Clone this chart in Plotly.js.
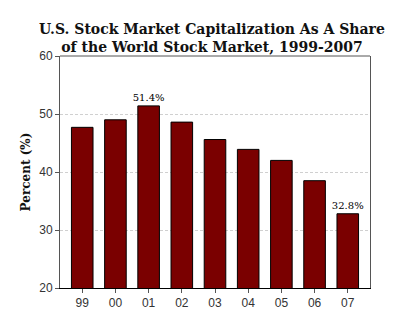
<!DOCTYPE html>
<html><head><meta charset="utf-8">
<script src="https://cdn.plot.ly/plotly-3.0.1.min.js"></script>
<style>html,body{margin:0;padding:0;background:#fff}#c{width:400px;height:321px}</style>
</head><body><div id="c"></div>
<script>
var years = ["99","00","01","02","03","04","05","06","07"];
var share = [47.7, 49.0, 51.4, 48.6, 45.6, 43.9, 42.0, 38.5, 32.8];
var labelled = ["01","07"];
var labels = years.map(function(y,i){ return labelled.indexOf(y) >= 0 ? share[i].toFixed(1) + "%" : ""; });

var serif = "DejaVu Serif, Liberation Serif, serif";
var trace = {
  type: "bar", x: years, y: share,
  marker: {color: "#7a0000", line: {color: "#000", width: 1}},
  width: 0.65,
  text: labels, textposition: "outside", cliponaxis: false, constraintext: "none",
  textfont: {family: serif, size: 10, color: "#000"},
  hoverinfo: "none"
};
var layout = {
  width: 400, height: 321,
  margin: {l: 60, r: 30, t: 56, b: 33},
  paper_bgcolor: "#fff", plot_bgcolor: "#fff",
  showlegend: false,
  title: {text: "U.S. Stock Market Capitalization As A Share<br>of the World Stock Market, 1999-2007",
          font: {family: serif, size: 14, color: "#111", weight: "bold"},
          x: 0.53, xanchor: "center", y: 0.895, yanchor: "top"},
  xaxis: {type: "category", range: [-0.67, 8.67], showline: true, linecolor: "#000", linewidth: 1,
          mirror: false, ticks: "outside", ticklen: 4, tickcolor: "#555",
          tickfont: {family: "Liberation Sans, Arial, sans-serif", size: 12, color: "#333"}, showgrid: false, fixedrange: true},
  yaxis: {range: [20, 60], tickvals: [20,30,40,50,60], showline: true, linecolor: "#555", mirror: true,
          ticks: "outside", ticklen: 4, tickcolor: "#555",
          tickfont: {family: "Liberation Sans, Arial, sans-serif", size: 12, color: "#333"},
          showgrid: true, gridcolor: "#d0d0d0", griddash: "3px,2px", zeroline: false,
          title: {text: "Percent (%)", standoff: 6, font: {family: serif, size: 12, color: "#111", weight: "bold"}}},
  shapes: [{type: "line", xref: "paper", yref: "paper", x0: 0, x1: 1, y0: 1, y1: 1, line: {color: "#555", width: 1}}]
};
Plotly.newPlot("c", [trace], layout, {displayModeBar: false, staticPlot: true});
</script></body></html>
